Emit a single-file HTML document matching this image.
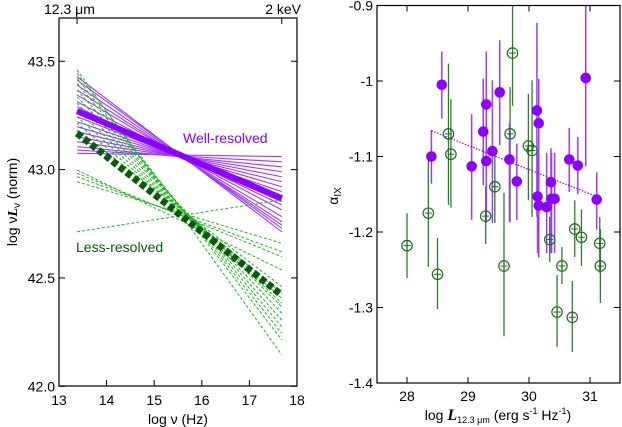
<!DOCTYPE html>
<html><head><meta charset="utf-8"><style>
html,body{margin:0;padding:0;background:#fff;}
svg{display:block;font-family:"Liberation Sans",sans-serif;}
</style></head><body>
<svg id="fig" width="622" height="427" viewBox="0 0 622 427" xmlns="http://www.w3.org/2000/svg">
<g id="left"></g>
<g id="right"></g>
</svg>
<script>
// ---------- Left panel data ----------
const purpleStart=[43.429,43.413,43.390,43.367,43.344,43.313,43.290,43.267,43.244,43.221,43.198,43.175,43.152,43.129,43.106,43.090,43.075];
const purpleEnd=[42.713,42.729,42.744,42.760,42.783,42.814,42.837,42.852,42.875,42.898,42.921,42.944,42.967,42.990,43.013,43.036,43.060];
const purpleMean=[43.27,42.868];
const greenStart=[43.460,43.444,43.421,43.398,43.367,43.336,43.306,43.275,43.244,43.214,43.183,42.998,42.983,42.967,42.944,42.713];
const greenEnd=[42.145,42.214,42.245,42.275,42.306,42.337,42.367,42.383,42.406,42.429,42.460,42.537,42.598,42.621,42.660,42.860];
const greenMean=[43.168,42.421];
const nuRange=[13.38,17.68];
const leftXTicks=[13,14,15,16,17,18];
const leftYTicks=[42.0,42.5,43.0,43.5];

// ---------- Right panel data ----------
const wellL=[28.57,28.40,29.06,29.25,29.30,29.30,29.40,29.52,29.68,29.80,30.13,30.16,30.14,30.16,30.29,30.36,30.37,30.42,30.66,30.80,30.93,31.11];
const wellA=[-1.005,-1.10,-1.113,-1.067,-1.031,-1.106,-1.093,-1.015,-1.104,-1.133,-1.039,-1.056,-1.153,-1.165,-1.167,-1.134,-1.156,-1.156,-1.104,-1.112,-0.996,-1.157];
const wellHi=[-0.961,-1.065,-1.044,-0.997,-0.961,-0.997,-0.999,-0.946,-1.056,-1.083,-0.923,-0.997,-1.095,-1.095,-1.095,-1.089,-1.095,-1.095,-1.062,-1.074,-0.90,-1.121];
const wellLo=[-1.050,-1.136,-1.184,-1.138,-1.188,-1.188,-1.188,-1.085,-1.187,-1.184,-1.180,-1.234,-1.228,-1.228,-1.228,-1.228,-1.228,-1.228,-1.147,-1.150,-1.113,-1.197];
const lessL=[28.0,28.35,28.5,28.68,28.72,29.29,29.44,29.59,29.73,29.69,29.99,30.05,30.34,30.46,30.54,30.71,30.75,30.86,31.16,31.17];
const lessA=[-1.218,-1.175,-1.256,-1.07,-1.097,-1.179,-1.14,-1.245,-0.963,-1.07,-1.086,-1.092,-1.21,-1.306,-1.245,-1.313,-1.196,-1.207,-1.215,-1.245];
const lessHi=[-1.175,-1.101,-1.208,-0.977,-1.024,-1.140,-1.089,-1.148,-0.90,-1.008,-1.017,-0.999,-1.180,-1.257,-1.220,-1.265,-1.158,-1.170,-1.180,-1.196];
const lessLo=[-1.261,-1.246,-1.302,-1.164,-1.168,-1.216,-1.188,-1.338,-1.033,-1.187,-1.158,-1.180,-1.240,-1.352,-1.269,-1.359,-1.233,-1.245,-1.254,-1.294];
const fitL=[28.4,31.11];
const fitA=[-1.066,-1.153];
const rightXTicks=[28,29,30,31];
const rightYTicks=[-0.9,-1.0,-1.1,-1.2,-1.3,-1.4];
const rightYLabels=["-0.9","-1","-1.1","-1.2","-1.3","-1.4"];

const NS="http://www.w3.org/2000/svg";
function mk(tag,attrs,parent,text){const e=document.createElementNS(NS,tag);for(const k in attrs)e.setAttribute(k,attrs[k]);if(text!==undefined)e.textContent=text;parent.appendChild(e);return e;}

// Left axes
const lx=v=>59+(v-13)*47.6;
const ly=v=>169.6-(v-43)*216.7;
const L=document.getElementById('left');
const PURPLE='#8b00ff', PURPLE2='#9d3cf5', GREEN='#22b422', DGREEN='#0a5a0a';

for(let i=0;i<purpleStart.length;i++){
  const e=mk('line',{x1:lx(nuRange[0]),y1:ly(purpleStart[i]),x2:lx(nuRange[1]),y2:ly(purpleEnd[i]),stroke:PURPLE2,'stroke-width':1.1},L);
  
  
}
for(let i=0;i<greenStart.length;i++){
  const e=mk('line',{x1:lx(nuRange[0]),y1:ly(greenStart[i]),x2:lx(nuRange[1]),y2:ly(greenEnd[i]),stroke:GREEN,'stroke-width':1,'stroke-dasharray':'3,2'},L);
  
  
}
let e=mk('line',{x1:lx(nuRange[0]),y1:ly(purpleMean[0]),x2:lx(nuRange[1]),y2:ly(purpleMean[1]),stroke:PURPLE,'stroke-width':6},L);


e=mk('line',{x1:lx(nuRange[0]),y1:ly(greenMean[0]),x2:lx(nuRange[1]),y2:ly(greenMean[1]),stroke:DGREEN,'stroke-width':7,'stroke-dasharray':'6,3'},L);



e=mk('rect',{x:59,y:18,width:238,height:368,fill:'none',stroke:'#000','stroke-width':1.2},L);


leftXTicks.forEach(t=>{
  mk('line',{x1:lx(t),y1:386,x2:lx(t),y2:380,stroke:'#000'},L);
  const tx=mk('text',{x:lx(t),y:405,'font-size':14,'text-anchor':'middle'},L,String(t));
  
  
});
leftYTicks.forEach(t=>{
  mk('line',{x1:59,y1:ly(t),x2:65,y2:ly(t),stroke:'#000'},L);
  mk('line',{x1:297,y1:ly(t),x2:291,y2:ly(t),stroke:'#000'},L);
  const tx=mk('text',{x:55,y:ly(t)+5,'font-size':14,'text-anchor':'end'},L,t.toFixed(1));
  
  
});
nuRange.forEach(t=>mk('line',{x1:lx(t),y1:18,x2:lx(t),y2:24,stroke:'#000'},L));
e=mk('text',{x:44,y:14,'font-size':14},L,'12.3 μm');
e=mk('text',{x:301,y:14,'font-size':14,'text-anchor':'end'},L,'2 keV');
e=mk('text',{x:178,y:424,'font-size':14,'text-anchor':'middle'},L,'log ν (Hz)');
e=mk('text',{x:0,y:0,'font-size':14,'text-anchor':'middle',transform:'translate(17,202) rotate(-90)'},L);
e.innerHTML='log ν<tspan font-style="italic" font-weight="bold" font-family="Liberation Serif">L</tspan><tspan font-size="10" dy="3">ν</tspan><tspan dy="-3"> (norm)</tspan>';

e=mk('text',{x:183,y:143,'font-size':14,fill:PURPLE},L,'Well-resolved');
e=mk('text',{x:76,y:252,'font-size':14,fill:DGREEN},L,'Less-resolved');

// Right axes
const rx=v=>407+(v-28)*61;
const ry=v=>5.5+(-0.9-v)*755;
const R=document.getElementById('right');
for(let i=0;i<lessL.length;i++){
  const b=mk('line',{x1:rx(lessL[i]),y1:ry(lessHi[i]),x2:rx(lessL[i]),y2:ry(lessLo[i]),stroke:'#2e7d2e','stroke-width':1.3},R);
  
  
}
for(let i=0;i<wellL.length;i++){
  const b=mk('line',{x1:rx(wellL[i]),y1:ry(wellHi[i]),x2:rx(wellL[i]),y2:ry(wellLo[i]),stroke:PURPLE2,'stroke-width':1.5},R);
  
  
}
e=mk('line',{x1:rx(fitL[0]),y1:ry(fitA[0]),x2:rx(fitL[1]),y2:ry(fitA[1]),stroke:PURPLE,'stroke-width':1.2,'stroke-dasharray':'1.5,1.5'},R);

for(let i=0;i<wellL.length;i++){
  const c=mk('circle',{cx:rx(wellL[i]),cy:ry(wellA[i]),r:5.3,fill:PURPLE},R);
  
  
}
for(let i=0;i<lessL.length;i++){
  const x=rx(lessL[i]),y=ry(lessA[i]);
  const g=mk('g',{},R);
  
  
  mk('circle',{cx:x,cy:y,r:5.2,fill:'none',stroke:'#1f6b1f','stroke-width':1.2},g);
  mk('line',{x1:x-3.5,y1:y,x2:x+3.5,y2:y,stroke:'#1f6b1f','stroke-width':1},g);
  mk('line',{x1:x,y1:y-3.5,x2:x,y2:y+3.5,stroke:'#1f6b1f','stroke-width':1},g);
}
e=mk('rect',{x:377,y:5.5,width:243,height:377.5,fill:'none',stroke:'#000','stroke-width':1.2},R);

rightXTicks.forEach(t=>{
  mk('line',{x1:rx(t),y1:383,x2:rx(t),y2:377,stroke:'#000'},R);
  mk('line',{x1:rx(t),y1:5.5,x2:rx(t),y2:11.5,stroke:'#000'},R);
  const tx=mk('text',{x:rx(t),y:401,'font-size':14,'text-anchor':'middle'},R,String(t));
  
  
});
rightYTicks.forEach((t,i)=>{
  mk('line',{x1:377,y1:ry(t),x2:383,y2:ry(t),stroke:'#000'},R);
  mk('line',{x1:620,y1:ry(t),x2:614,y2:ry(t),stroke:'#000'},R);
  const tx=mk('text',{x:373,y:ry(t)+5,'font-size':14,'text-anchor':'end'},R,rightYLabels[i]);
  
  
});
e=mk('text',{x:0,y:0,'font-size':14,'text-anchor':'middle',transform:'translate(338,196) rotate(-90)'},R);
e.innerHTML='α<tspan font-size="10" dy="3">IX</tspan>';

e=mk('text',{x:498,y:420,'font-size':14,'text-anchor':'middle'},R);
e.innerHTML='log <tspan font-style="italic" font-weight="bold" font-family="Liberation Serif" font-size="16">L</tspan><tspan font-size="9" dy="3">12.3 μm</tspan><tspan dy="-3"> (erg s</tspan><tspan font-size="9" dy="-6">-1</tspan><tspan dy="6"> Hz</tspan><tspan font-size="9" dy="-6">-1</tspan><tspan dy="6">)</tspan>';

</script>
</body></html>
